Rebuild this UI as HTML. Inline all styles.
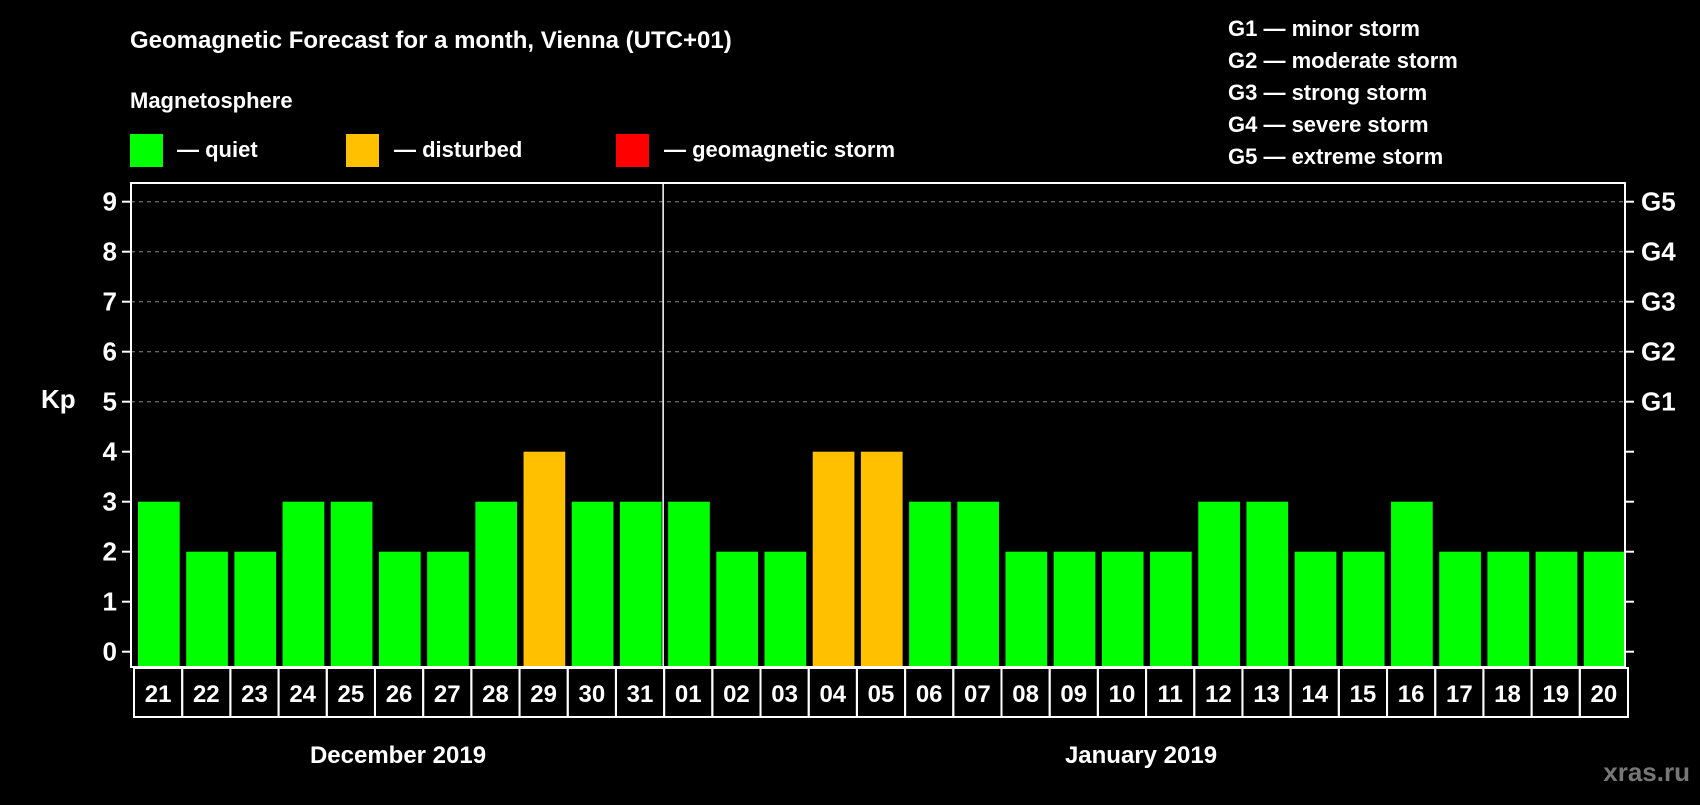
<!DOCTYPE html>
<html><head><meta charset="utf-8"><style>
body{margin:0;background:#000;width:1700px;height:800px;overflow:hidden;font-family:"Liberation Sans",sans-serif;}
svg text{font-family:"Liberation Sans",sans-serif;font-weight:bold;fill:#fff;}
</style></head><body>
<svg id="chart" width="1700" height="800" xmlns="http://www.w3.org/2000/svg">
<text x="130" y="48" font-size="24">Geomagnetic Forecast for a month, Vienna (UTC+01)</text>
<text x="130" y="108" font-size="22">Magnetosphere</text>
<rect x="130" y="134" width="33" height="33" fill="#00ff00"/>
<text x="177" y="157" font-size="22">— quiet</text>
<rect x="346" y="134" width="33" height="33" fill="#ffc000"/>
<text x="394" y="157" font-size="22">— disturbed</text>
<rect x="616" y="134" width="33" height="33" fill="#ff0000"/>
<text x="664" y="157" font-size="22">— geomagnetic storm</text>
<g font-size="22">
<text x="1228" y="36">G1 — minor storm</text>
<text x="1228" y="68">G2 — moderate storm</text>
<text x="1228" y="100">G3 — strong storm</text>
<text x="1228" y="132">G4 — severe storm</text>
<text x="1228" y="164">G5 — extreme storm</text>
</g>
<text x="41" y="408" font-size="26">Kp</text>
<g id="plot"></g>
<text x="398" y="763" font-size="24" text-anchor="middle">December 2019</text>
<text x="1141" y="763" font-size="24" text-anchor="middle">January 2019</text>
<text x="1690" y="781" font-size="26" text-anchor="end" style="fill:#777">xras.ru</text>
</svg>
<script>
const days=["21","22","23","24","25","26","27","28","29","30","31","01","02","03","04","05","06","07","08","09","10","11","12","13","14","15","16","17","18","19","20"];
const kp=[3,2,2,3,3,2,2,3,4,3,3,3,2,2,4,4,3,3,2,2,2,2,3,3,2,2,3,2,2,2,2];
const yTicks=[0,1,2,3,4,5,6,7,8,9];
const gLabels=["G1","G2","G3","G4","G5"];
const NS="http://www.w3.org/2000/svg";
const g=document.getElementById('plot');
const L=131,R=1625,T=183,B=667,Y0=651.7,U=50;
const step=(R-L)/days.length;
const y=v=>Y0-v*U;
const x=i=>L+i*step;
function mk(t,a){const e=document.createElementNS(NS,t);for(const k in a)e.setAttribute(k,a[k]);g.appendChild(e);return e;}
yTicks.forEach(v=>{
 if(v>=5){const l=mk('line',{x1:L,x2:R,y1:y(v),y2:y(v),stroke:'#888','stroke-dasharray':'4,4','stroke-width':1});
 
 }
 const t1=mk('line',{x1:L-9,x2:L,y1:y(v),y2:y(v),stroke:'#fff','stroke-width':2});
 
 
 const t2=mk('line',{x1:R,x2:R+9,y1:y(v),y2:y(v),stroke:'#fff','stroke-width':2});
 
 
 const tx=mk('text',{x:117,y:y(v)+9,'font-size':26,'text-anchor':'end'});tx.textContent=v;
 
 
});
gLabels.forEach((s,i)=>{const tx=mk('text',{x:1641,y:y(5+i)+9,'font-size':26});tx.textContent=s;
 
 });
kp.forEach((v,i)=>{
 const c=v>=5?'#ff0000':(v>=4?'#ffc000':'#00ff00');
 const r=mk('rect',{x:x(i)+7,y:y(v),width:step-6.5,height:B-y(v),fill:c});
 
 
 const bx=mk('rect',{x:x(i)+3,y:B+1,width:step,height:49,fill:'none',stroke:'#fff','stroke-width':2});
 
 
 const tx=mk('text',{x:x(i)+3+step/2,y:B+35,'font-size':24,'text-anchor':'middle'});tx.textContent=days[i];
 
 
});
const fr=mk('rect',{x:L,y:T,width:R-L,height:B-T,fill:'none',stroke:'#fff','stroke-width':2});


const sep=mk('line',{x1:x(11)+2,x2:x(11)+2,y1:T,y2:B,stroke:'#fff','stroke-width':1.5});


</script>
</body></html>
